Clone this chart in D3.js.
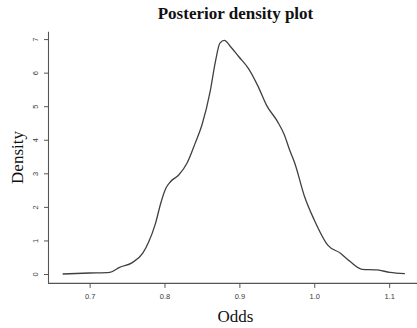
<!DOCTYPE html>
<html>
<head>
<meta charset="utf-8">
<script src="https://cdn.jsdelivr.net/npm/d3@7/dist/d3.min.js"></script>
<style>
  html, body { margin: 0; padding: 0; background: #fff; }
  svg { display: block; }
</style>
</head>
<body>
<svg id="chart" width="417" height="328"></svg>
<script>
// Posterior density estimate of the odds
const odds = [0.664, 0.700, 0.727, 0.740, 0.757, 0.771, 0.779, 0.788, 0.795, 0.802,
              0.808, 0.819, 0.830, 0.841, 0.850, 0.861, 0.868, 0.874, 0.880, 0.888,
              0.899, 0.912, 0.925, 0.936, 0.951, 0.960, 0.967, 0.974, 0.987, 1.000,
              1.018, 1.035, 1.048, 1.064, 1.084, 1.101, 1.121];
const density = [0.00, 0.03, 0.05, 0.20, 0.34, 0.62, 0.96, 1.51, 2.11, 2.56,
                 2.75, 2.95, 3.30, 3.90, 4.44, 5.44, 6.33, 6.88, 6.96, 6.78,
                 6.48, 6.13, 5.59, 5.04, 4.54, 4.15, 3.70, 3.30, 2.31, 1.61,
                 0.86, 0.62, 0.37, 0.14, 0.12, 0.05, 0.01];
const xTicks = [0.7, 0.8, 0.9, 1.0, 1.1];
const yTicks = [0, 1, 2, 3, 4, 5, 6, 7];

const svg = d3.select("#chart");
const ink = "#3a3a3a";

const x = d3.scaleLinear().domain([0.6451, 1.1372]).range([48.5, 417]);
const y = d3.scaleLinear().domain([-0.28, 7.22]).range([283.4, 31.7]);

// L-shaped frame: left and bottom edges of the plot region
svg.append("path")
  .attr("d", `M${x.range()[0]},${y.range()[1]}V${y.range()[0]}H${x.range()[1]}`)
  .attr("fill", "none").attr("stroke", "#555").attr("stroke-width", 1.1);

// x axis ticks and labels
const gx = svg.append("g").attr("transform", `translate(0,${y.range()[0]})`)
  .call(d3.axisBottom(x).tickValues(xTicks).tickSize(4.5).tickSizeOuter(0)
        .tickFormat(d3.format(".1f")));
gx.select(".domain").remove();
gx.selectAll(".tick line").attr("stroke", "#555");
gx.selectAll(".tick text").attr("fill", ink).attr("dy", 0).attr("y", 16)
  .style("font", "7.5px 'Liberation Sans', Arial, sans-serif");

// y axis ticks and rotated labels
const gy = svg.append("g").attr("transform", `translate(${x.range()[0]},0)`)
  .call(d3.axisLeft(y).tickValues(yTicks).tickSize(4.5).tickSizeOuter(0)
        .tickFormat(d3.format("d")));
gy.select(".domain").remove();
gy.selectAll(".tick line").attr("stroke", "#555");
gy.selectAll(".tick text")
  .attr("fill", ink).attr("x", 0).attr("dy", 0)
  .attr("text-anchor", "middle")
  .attr("transform", "translate(-10.5,0) rotate(-90)")
  .style("font", "7.5px 'Liberation Sans', Arial, sans-serif");

// density curve
const line = d3.line()
  .x((d, i) => x(odds[i]))
  .y(d => y(d))
  .curve(d3.curveMonotoneX);
svg.append("path")
  .datum(density)
  .attr("d", line)
  .attr("fill", "none")
  .attr("stroke", "#404040")
  .attr("stroke-width", 1.3)
  .attr("stroke-linejoin", "round");

// titles
svg.append("text")
  .attr("x", 235.5).attr("y", 18.5)
  .attr("text-anchor", "middle")
  .attr("fill", "#111")
  .style("font", "bold 17px 'Liberation Serif', 'Times New Roman', serif")
  .text("Posterior density plot");

svg.append("text")
  .attr("x", 235.5).attr("y", 321.5)
  .attr("text-anchor", "middle")
  .attr("fill", "#111")
  .style("font", "17px 'Liberation Serif', 'Times New Roman', serif")
  .text("Odds");

svg.append("text")
  .attr("transform", "translate(22.5,157.5) rotate(-90)")
  .attr("text-anchor", "middle")
  .attr("fill", "#111")
  .style("font", "17px 'Liberation Serif', 'Times New Roman', serif")
  .text("Density");
</script>
</body>
</html>
